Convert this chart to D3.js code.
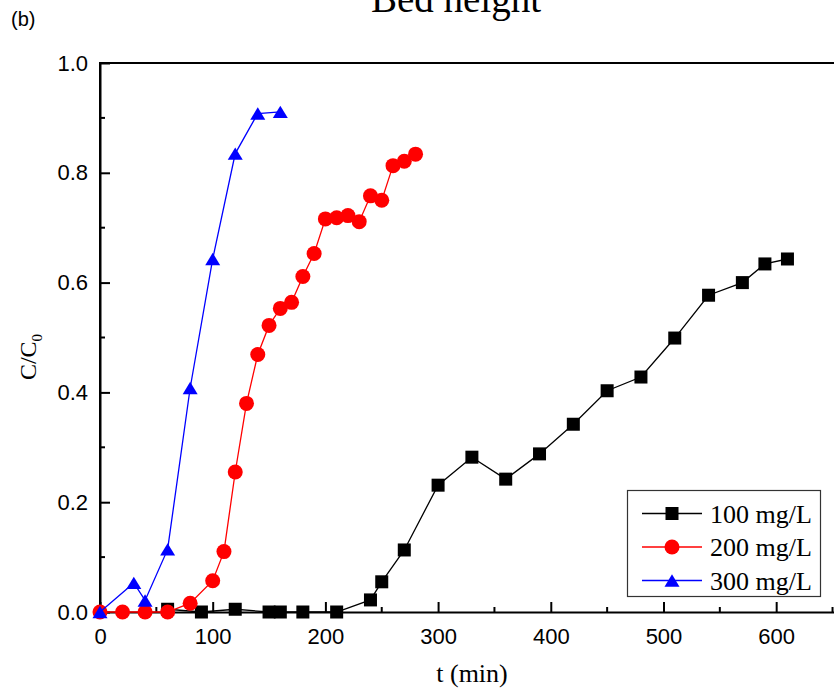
<!DOCTYPE html>
<html>
<head>
<meta charset="utf-8">
<script src="https://cdn.jsdelivr.net/npm/d3@7/dist/d3.min.js"></script>
<style>
  html, body { margin: 0; padding: 0; background: #fff; }
  svg { display: block; }
</style>
</head>
<body>
<svg id="chart" width="834" height="693"></svg>
<script>
// Breakthrough curves at different inlet concentrations
const t100 = [60, 90, 120, 150, 160, 180, 210, 240, 250, 270, 300, 330, 360, 390, 420, 450, 480, 510, 540, 570, 590, 610];
const c100 = [0.005, 0.0, 0.005, 0.0, 0.0, 0.0, 0.0, 0.022, 0.055, 0.113, 0.231, 0.282, 0.242, 0.288, 0.342, 0.403, 0.428, 0.499, 0.577, 0.6, 0.634, 0.643];

const t200 = [0, 20, 40, 60, 80, 100, 110, 120, 130, 140, 150, 160, 170, 180, 190, 200, 210, 220, 230, 240, 250, 260, 270, 280];
const c200 = [0, 0, 0, 0, 0.016, 0.057, 0.11, 0.255, 0.38, 0.469, 0.522, 0.553, 0.564, 0.611, 0.653, 0.716, 0.718, 0.722, 0.711, 0.758, 0.75, 0.813, 0.821, 0.834];

const t300 = [0, 30, 40, 60, 80, 100, 120, 140, 160];
const c300 = [0, 0.053, 0.021, 0.114, 0.408, 0.643, 0.835, 0.908, 0.911];

const seriesNames = ["100 mg/L", "200 mg/L", "300 mg/L"];
const seriesColors = ["#000000", "#ff0000", "#0000ff"];
const seriesShapes = ["square", "circle", "triangle"];

const xTicks = [0, 100, 200, 300, 400, 500, 600];
const yTicks = [0.0, 0.2, 0.4, 0.6, 0.8, 1.0];

const svg = d3.select("#chart");
const x = d3.scaleLinear().domain([0, 660]).range([100, 843.8]);
const y = d3.scaleLinear().domain([0, 1]).range([612, 63]);

const sans = "'Liberation Sans', Arial, sans-serif";
const serif = "'Liberation Serif', 'Times New Roman', serif";

// frame (top and left edges; right side runs past the view)
svg.append("path")
  .attr("d", `M${x(0)},${y(0)} V${y(1)} H${x(660)}`)
  .attr("fill", "none").attr("stroke", "#000").attr("stroke-width", 2);

// bottom axis, ticks pointing inward
const xAxis = d3.axisBottom(x).tickValues(xTicks).tickSizeInner(-10).tickSizeOuter(0).tickPadding(16).tickFormat(d3.format("d"));
const gx = svg.append("g").attr("transform", `translate(0,${y(0)})`).call(xAxis);
gx.select(".domain").attr("stroke-width", 2);
gx.selectAll(".tick line").attr("stroke-width", 2);
gx.selectAll(".tick text").attr("font-family", sans).attr("font-size", 22).attr("fill", "#000");
gx.selectAll(".minor").data(d3.range(50, 660, 100)).join("line")
  .attr("x1", d => x(d)).attr("x2", d => x(d)).attr("y1", 0).attr("y2", -5)
  .attr("stroke", "#000").attr("stroke-width", 2);

// left axis
const yAxis = d3.axisLeft(y).tickValues(yTicks).tickSizeInner(-10).tickSizeOuter(0).tickPadding(12).tickFormat(d3.format(".1f"));
const gy = svg.append("g").attr("transform", `translate(${x(0)},0)`).call(yAxis);
gy.select(".domain").attr("stroke-width", 2);
gy.selectAll(".tick line").attr("stroke-width", 2);
gy.selectAll(".tick text").attr("font-family", sans).attr("font-size", 22).attr("fill", "#000");
gy.selectAll(".minor").data([0.1, 0.3, 0.5, 0.7, 0.9]).join("line")
  .attr("x1", 0).attr("x2", 5).attr("y1", d => y(d)).attr("y2", d => y(d))
  .attr("stroke", "#000").attr("stroke-width", 2);

// marker drawing
function marker(g, shape, color, cx, cy, s) {
  if (shape === "square") {
    g.append("rect").attr("x", cx - s / 2).attr("y", cy - s / 2).attr("width", s).attr("height", s).attr("fill", color);
  } else if (shape === "circle") {
    g.append("circle").attr("cx", cx).attr("cy", cy).attr("r", s / 2 + 1).attr("fill", color);
  } else {
    const h = s * 0.95, w = s + 2;
    g.append("path").attr("d", `M${cx},${cy - h / 2} L${cx + w / 2},${cy + h / 2} L${cx - w / 2},${cy + h / 2} Z`).attr("fill", color);
  }
}

const series = [
  { t: t100, c: c100 },
  { t: t200, c: c200 },
  { t: t300, c: c300 }
];

const line = d3.line().x(d => x(d[0])).y(d => y(d[1]));
series.forEach((s, i) => {
  const pts = s.t.map((tv, j) => [tv, s.c[j]]);
  const g = svg.append("g");
  g.append("path").datum(pts).attr("d", line).attr("fill", "none")
    .attr("stroke", seriesColors[i]).attr("stroke-width", 1.3);
  pts.forEach(p => marker(g, seriesShapes[i], seriesColors[i], x(p[0]), y(p[1]), 13));
});

// legend
const lg = svg.append("g");
lg.append("rect").attr("x", 627.5).attr("y", 490.5).attr("width", 193).attr("height", 106)
  .attr("fill", "#fff").attr("stroke", "#333").attr("stroke-width", 1.2);
seriesNames.forEach((name, i) => {
  const ly = 513.5 + i * 33.5;
  lg.append("line").attr("x1", 642).attr("x2", 702).attr("y1", ly).attr("y2", ly)
    .attr("stroke", seriesColors[i]).attr("stroke-width", 1.3);
  marker(lg, seriesShapes[i], seriesColors[i], 672, ly, 13);
  lg.append("text").attr("x", 710).attr("y", ly + 9).attr("font-family", serif)
    .attr("font-size", 26).attr("fill", "#000").text(name);
});

// axis titles
svg.append("text").attr("x", 472).attr("y", 682).attr("text-anchor", "middle")
  .attr("font-family", serif).attr("font-size", 26).attr("fill", "#000").text("t (min)");

const yl = svg.append("text").attr("transform", "translate(36,357) rotate(-90)")
  .attr("text-anchor", "middle").attr("font-family", serif).attr("font-size", 24).attr("fill", "#000");
yl.append("tspan").text("C/C");
yl.append("tspan").attr("font-size", 15).attr("dy", 6).text("0");

// chart title and panel label
svg.append("text").attr("x", 456).attr("y", 12).attr("text-anchor", "middle")
  .attr("font-family", serif).attr("font-size", 39).attr("fill", "#000").text("Bed height");
svg.append("text").attr("x", 11).attr("y", 26).attr("font-family", sans)
  .attr("font-size", 20).attr("fill", "#000").text("(b)");
</script>
</body>
</html>
